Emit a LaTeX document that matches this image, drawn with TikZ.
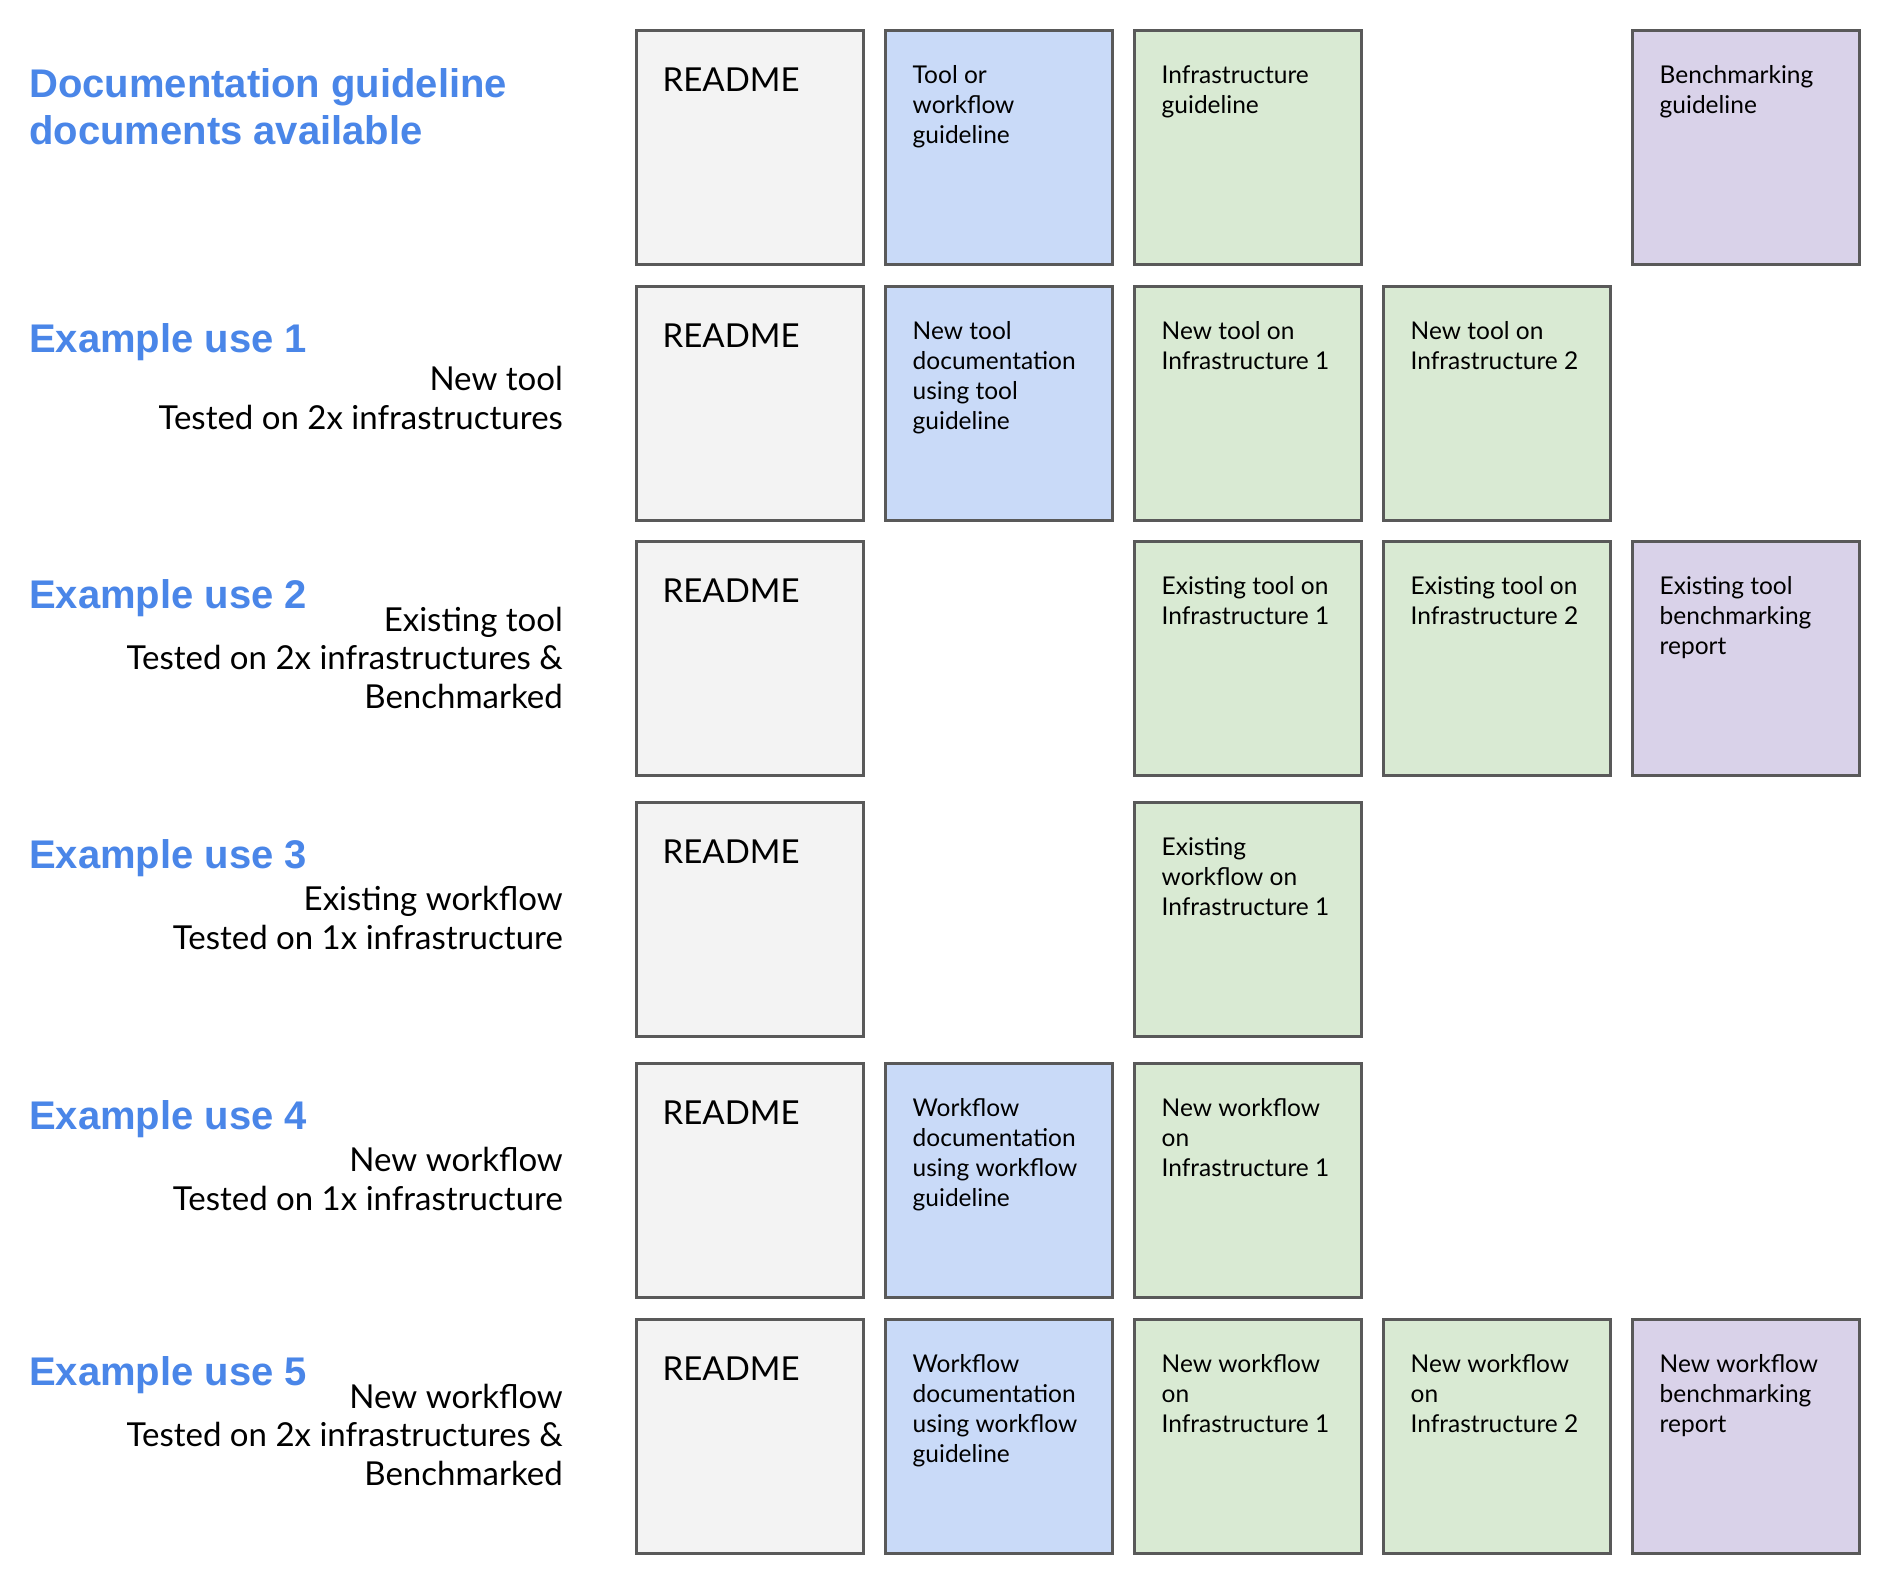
\documentclass[tikz,border=0pt]{standalone}
\usepackage{fontspec}
\setmainfont{Lato}
\newfontfamily\headfont{Liberation Sans}

\definecolor{headblue}{HTML}{4A86E8}
\definecolor{docline}{HTML}{595959}
\definecolor{readmefill}{HTML}{F3F3F3}
\definecolor{toolfill}{HTML}{C9DAF8}
\definecolor{infrafill}{HTML}{D9EAD3}
\definecolor{benchfill}{HTML}{D9D2E9}

\begin{document}
\begin{tikzpicture}[x=1pt, y=-1pt]
    \tikzset{
      doc/.style={draw=docline, line width=3pt, minimum width=227pt, minimum height=234pt, inner sep=0pt},
      readme/.style={doc, fill=readmefill},
      tooldoc/.style={doc, fill=toolfill},
      infradoc/.style={doc, fill=infrafill},
      benchdoc/.style={doc, fill=benchfill},
      readmetext/.style={anchor=base west, inner sep=0pt, font=\fontsize{33}{40}\selectfont},
      doctext/.style={anchor=base west, align=left, inner sep=0pt, font=\fontsize{24.5}{30}\selectfont},
      heading/.style={anchor=base west, align=left, inner sep=0pt, text=headblue, font=\headfont\bfseries\fontsize{40}{47}\selectfont},
      usetext/.style={anchor=base east, align=right, inner sep=0pt, font=\fontsize{33}{38.7}\selectfont}
    }
    \useasboundingbox (0,0) rectangle (1894,1579);

    % guideline documents (base = last line)
    \node[heading] (guide) at (29,144.5) {Documentation guideline\\documents available};
    \node[readme] (g-readme) at (750,147.5) {};
    \node[tooldoc] (g-tool) at (999,147.5) {};
    \node[infradoc] (g-infra) at (1248,147.5) {};
    \node[benchdoc] (g-bench) at (1746,147.5) {};
    \node[readmetext] (g-readme-t) at ([shift={(27.5,62.5)}]g-readme.north west) {README};
    \node[doctext] (g-tool-t) at ([shift={(28.5,114)}]g-tool.north west) {Tool or\\workflow\\guideline};
    \node[doctext] (g-infra-t) at ([shift={(28.5,84)}]g-infra.north west) {Infrastructure\\guideline};
    \node[doctext] (g-bench-t) at ([shift={(28.5,84)}]g-bench.north west) {Benchmarking\\guideline};

    % example use 1
    \node[heading] (use1) at (29,352.5) {Example use 1};
    \node[usetext] (use1-t) at (563,429.5) {New tool\\Tested on 2x infrastructures};
    \node[readme] (a-readme) at (750,403.5) {};
    \node[tooldoc] (a-tool) at (999,403.5) {};
    \node[infradoc] (a-infra1) at (1248,403.5) {};
    \node[infradoc] (a-infra2) at (1497,403.5) {};
    \node[readmetext] (a-readme-t) at ([shift={(27.5,62.5)}]a-readme.north west) {README};
    \node[doctext] (a-tool-t) at ([shift={(28.5,144)}]a-tool.north west) {New tool\\documentation\\using tool\\guideline};
    \node[doctext] (a-infra1-t) at ([shift={(28.5,84)}]a-infra1.north west) {New tool on\\Infrastructure 1};
    \node[doctext] (a-infra2-t) at ([shift={(28.5,84)}]a-infra2.north west) {New tool on\\Infrastructure 2};

    % example use 2
    \node[heading] (use2) at (29,608.5) {Example use 2};
    \node[usetext] (use2-t) at (563,708.5) {Existing tool\\Tested on 2x infrastructures \&\\Benchmarked};
    \node[readme] (b-readme) at (750,658.5) {};
    \node[infradoc] (b-infra1) at (1248,658.5) {};
    \node[infradoc] (b-infra2) at (1497,658.5) {};
    \node[benchdoc] (b-bench) at (1746,658.5) {};
    \node[readmetext] (b-readme-t) at ([shift={(27.5,62.5)}]b-readme.north west) {README};
    \node[doctext] (b-infra1-t) at ([shift={(28.5,84)}]b-infra1.north west) {Existing tool on\\Infrastructure 1};
    \node[doctext] (b-infra2-t) at ([shift={(28.5,84)}]b-infra2.north west) {Existing tool on\\Infrastructure 2};
    \node[doctext] (b-bench-t) at ([shift={(28.5,114)}]b-bench.north west) {Existing tool\\benchmarking\\report};

    % example use 3
    \node[heading] (use3) at (29,868.5) {Example use 3};
    \node[usetext] (use3-t) at (563,949.5) {Existing workflow\\Tested on 1x infrastructure};
    \node[readme] (c-readme) at (750,919.5) {};
    \node[infradoc] (c-infra1) at (1248,919.5) {};
    \node[readmetext] (c-readme-t) at ([shift={(27.5,62.5)}]c-readme.north west) {README};
    \node[doctext] (c-infra1-t) at ([shift={(28.5,114)}]c-infra1.north west) {Existing\\workflow on\\Infrastructure 1};

    % example use 4
    \node[heading] (use4) at (29,1129.5) {Example use 4};
    \node[usetext] (use4-t) at (563,1210.5) {New workflow\\Tested on 1x infrastructure};
    \node[readme] (d-readme) at (750,1180.5) {};
    \node[tooldoc] (d-tool) at (999,1180.5) {};
    \node[infradoc] (d-infra1) at (1248,1180.5) {};
    \node[readmetext] (d-readme-t) at ([shift={(27.5,62.5)}]d-readme.north west) {README};
    \node[doctext] (d-tool-t) at ([shift={(28.5,144)}]d-tool.north west) {Workflow\\documentation\\using workflow\\guideline};
    \node[doctext] (d-infra1-t) at ([shift={(28.5,114)}]d-infra1.north west) {New workflow\\on\\Infrastructure 1};

    % example use 5
    \node[heading] (use5) at (29,1385) {Example use 5};
    \node[usetext] (use5-t) at (563,1485.5) {New workflow\\Tested on 2x infrastructures \&\\Benchmarked};
    \node[readme] (e-readme) at (750,1436.5) {};
    \node[tooldoc] (e-tool) at (999,1436.5) {};
    \node[infradoc] (e-infra1) at (1248,1436.5) {};
    \node[infradoc] (e-infra2) at (1497,1436.5) {};
    \node[benchdoc] (e-bench) at (1746,1436.5) {};
    \node[readmetext] (e-readme-t) at ([shift={(27.5,62.5)}]e-readme.north west) {README};
    \node[doctext] (e-tool-t) at ([shift={(28.5,144)}]e-tool.north west) {Workflow\\documentation\\using workflow\\guideline};
    \node[doctext] (e-infra1-t) at ([shift={(28.5,114)}]e-infra1.north west) {New workflow\\on\\Infrastructure 1};
    \node[doctext] (e-infra2-t) at ([shift={(28.5,114)}]e-infra2.north west) {New workflow\\on\\Infrastructure 2};
    \node[doctext] (e-bench-t) at ([shift={(28.5,114)}]e-bench.north west) {New workflow\\benchmarking\\report};
\end{tikzpicture}
\end{document}
